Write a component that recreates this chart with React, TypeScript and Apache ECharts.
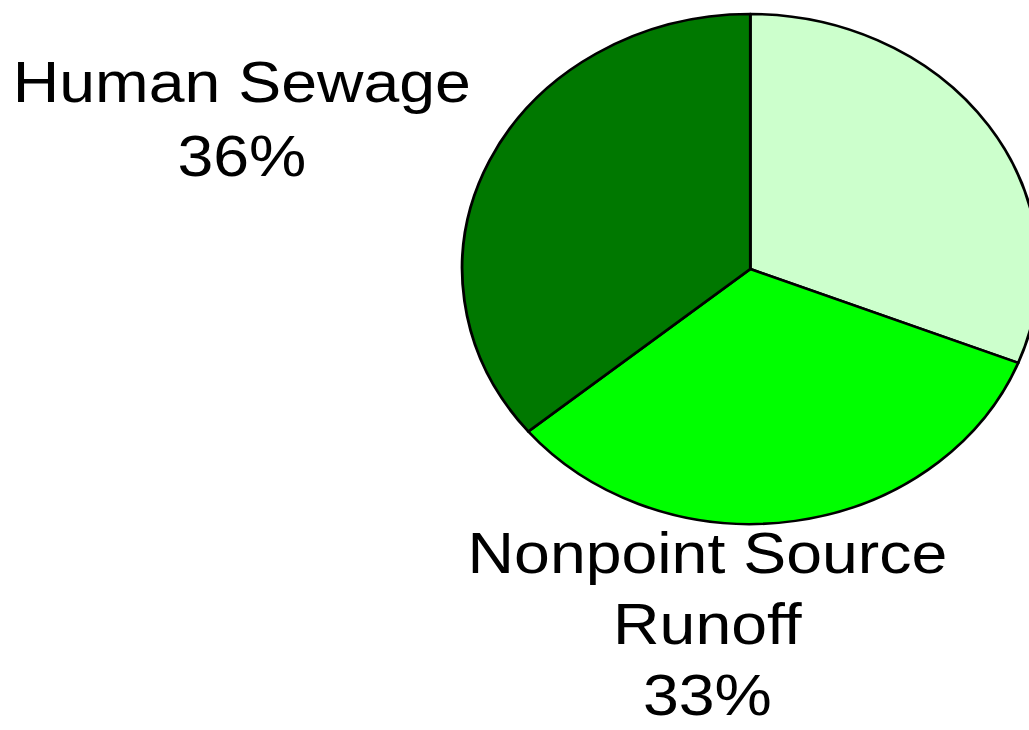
import React, { useEffect, useRef } from "react";
import * as echarts from "echarts";

// Data (clockwise from 12 o'clock)
const categories = ["Other", "Nonpoint Source\nRunoff", "Human Sewage"];
const values = [31, 33, 36];
const colors = ["#CCFFCC", "#00FF00", "#007800"];
const showLabel = [false, true, true];

const SX = 1.13; // horizontal stretch of the original picture

export default function App() {
  const ref = useRef<HTMLDivElement>(null);

  useEffect(() => {
    if (!ref.current) return;
    const chart = echarts.init(ref.current, undefined, { renderer: "svg" });
    const labelPos: Record<number, [number, number, number]> = {
      1: [626, 624, 71],
      2: [214, 119, 74],
    };
    const graphics: any[] = [];
    categories.forEach((c, i) => {
      if (!showLabel[i]) return;
      const lines = [...c.split("\n"), `${values[i]}%`];
      const n = lines.length;
      const [lx, ly, gap] = labelPos[i];
      lines.forEach((t, k) => {
        graphics.push({
          type: "text",
          x: lx,
          y: ly + (k - (n - 1) / 2) * gap,
          style: {
            text: t,
            fontSize: 57,
            fontFamily: "'Liberation Sans', Arial, sans-serif",
            fill: "#000000",
            align: "center",
            verticalAlign: "middle",
          },
        });
      });
    });
    const option: echarts.EChartsOption = {
      animation: false,
      backgroundColor: "#ffffff",
      series: [
        {
          type: "pie",
          center: [664, 269],
          radius: 255,
          startAngle: 90,
          clockwise: true,
          avoidLabelOverlap: false,
          label: { show: false },
          labelLine: { show: false },
          emphasis: { disabled: true },
          itemStyle: { borderColor: "#000000", borderWidth: 2.5 },
          data: categories.map((c, i) => ({
            name: c,
            value: values[i],
            itemStyle: { color: colors[i] },
          })),
        },
      ],
      graphic: graphics,
    };
    chart.setOption(option);
    return () => chart.dispose();
  }, []);

  return (
    <div
      style={{
        position: "fixed",
        left: 0,
        top: 0,
        width: 1029,
        height: 730,
        overflow: "hidden",
        background: "#ffffff",
      }}
    >
      <div
        ref={ref}
        style={{
          width: 1000,
          height: 730,
          transform: `scaleX(${SX})`,
          transformOrigin: "0 0",
        }}
      />
    </div>
  );
}
